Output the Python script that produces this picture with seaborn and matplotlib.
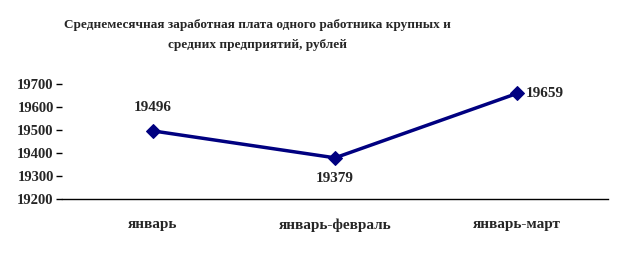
import matplotlib
matplotlib.use("Agg")
import matplotlib.pyplot as plt
import seaborn as sns
import pandas as pd
from matplotlib.ticker import FixedLocator

categories = ["январь", "январь-февраль", "январь-март"]
values = [19496, 19379, 19659]
yticks = [19200, 19300, 19400, 19500, 19600, 19700]
title = "Среднемесячная заработная плата одного работника крупных и\nсредних предприятий, рублей"

sns.set_style("white")
plt.rcParams['font.family'] = ['Liberation Serif', 'DejaVu Serif']

df = pd.DataFrame({"period": categories, "value": values})

fig = plt.figure(figsize=(6.26, 2.58), dpi=100)
ax = fig.add_axes([62/626, 1-199/258, (608-62)/626, (199-84)/258])

sns.lineplot(data=df, x="period", y="value", ax=ax, color="#000080",
             marker="D", markersize=7, linewidth=2.5, markeredgecolor="#000080")

ax.set_xlim(-0.5, 2.5)
ax.set_ylim(19200, 19700)
ax.set_yticks(yticks)
ax.set_yticklabels([str(t) for t in yticks], fontweight="bold", fontsize=10.5)
ax.set_xticks(range(len(categories)))
ax.set_xticklabels(categories, fontweight="bold", fontsize=11)
ax.tick_params(axis="x", which="major", length=0, pad=14)
ax.xaxis.set_minor_locator(FixedLocator([0.5, 1.5]))
ax.tick_params(axis="x", which="minor", length=4, direction="in", width=1, color="black")
ax.tick_params(axis="y", which="major", length=4, direction="out", width=1, color="black", pad=2, left=True)
ax.set_xlabel("")
ax.set_ylabel("")
for s in ["top", "right", "left"]:
    ax.spines[s].set_visible(False)
ax.spines["bottom"].set_color("black")
ax.spines["bottom"].set_linewidth(1)

offsets = [(0, 12, "center", "bottom"), (0, -10, "center", "top"), (6, 0, "left", "center")]
for i, (v, (dx, dy, ha, va)) in enumerate(zip(values, offsets)):
    ax.annotate(str(v), (i, v), xytext=(dx, dy), textcoords="offset points",
                ha=ha, va=va, fontsize=11, fontweight="bold")

fig.text(257/626, 1-35/258, title, ha="center", va="center", fontsize=9.5,
         fontweight="bold", linespacing=1.8)

fig.savefig("out.png", dpi=100)
